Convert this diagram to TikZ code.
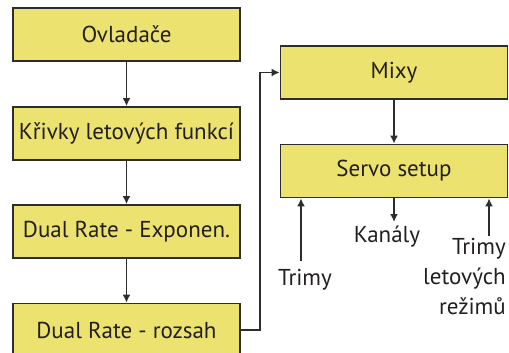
\documentclass[tikz,border=0pt]{standalone}
\usepackage{fontspec}
\setmainfont{PT Sans}
\usetikzlibrary{positioning, arrows.meta, calc}
\definecolor{cbox}{RGB}{236,226,112}
\definecolor{cline}{RGB}{45,45,45}
\definecolor{ctext}{RGB}{35,31,32}

\begin{document}
\begin{tikzpicture}[x=1pt, y=-1pt, font=\fontsize{23}{30}\selectfont, text=ctext,
    box/.style={draw=cline, line width=1.8pt, fill=cbox, minimum width=227pt, minimum height=53pt, inner sep=0pt},
    conn/.style={draw=cline, line width=1.8pt, -{Latex[length=8pt, width=8pt]}},
    lbl/.style={inner sep=2pt, align=right}]

  \useasboundingbox (0,0) rectangle (509,353);

  % --- levy sloupec ---
  \node[box] (ovl) at (126.5,34.5) {Ovladače};
  \node[box] (kriv) at (126.5,133.5) {Křivky letových funkcí};
  \node[box] (dre) at (126.5,231.5) {Dual Rate - Exponen.};
  \node[box] (drr) at (126.5,330) {Dual Rate - rozsah};

  \draw[conn] (ovl) -- (kriv);
  \draw[conn] (kriv) -- (dre);
  \draw[conn] (dre) -- (drr);

  % --- pravy sloupec ---
  \node[box] (mix) at (394,72.5) {Mixy};
  \node[box] (servo) at (394,171) {Servo setup};

  \draw[conn] (drr.east) -- ++(19,0) |- (mix.west);
  \draw[conn] (mix) -- (servo);

  % --- vstupy a vystupy serva ---
  \node[lbl] (trim) at (305,280) {Trimy};
  \node[lbl] (kan) at (387,237) {Kanály};
  \node[lbl, anchor=north east] (trimlr) at (508,236) {Trimy\\letových\\režimů};

  \coordinate (ptrim) at (301,261);
  \coordinate (pkan) at (394,222);
  \coordinate (ptlr) at (489,236);

  \draw[conn] (ptrim) -- (ptrim |- servo.south);
  \draw[conn] (pkan |- servo.south) -- (pkan);
  \draw[conn] (ptlr) -- (ptlr |- servo.south);
\end{tikzpicture}
\end{document}
